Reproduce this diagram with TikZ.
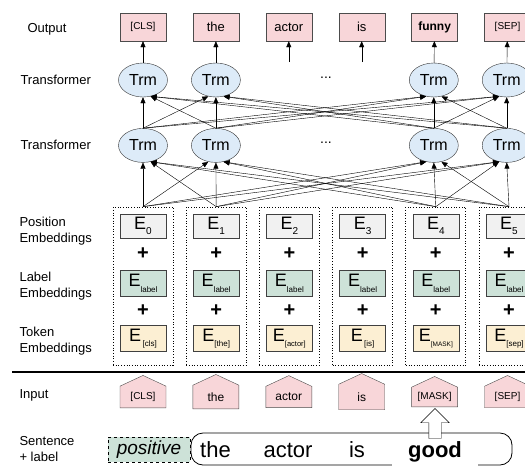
\documentclass[tikz,border=0pt]{standalone}
\usepackage{fontspec}
\setmainfont{Liberation Sans}
\usepackage{xcolor}
\usepackage{tikz}
\usetikzlibrary{positioning, arrows.meta, shapes.geometric, shapes.symbols, shapes.arrows, calc}

\definecolor{wordpink}{HTML}{F8D6D9}
\definecolor{trmblue}{HTML}{DDEBF8}
\definecolor{posgray}{HTML}{F1F1F1}
\definecolor{labgreen}{HTML}{CDE2D8}
\definecolor{tokcream}{HTML}{FCEFD3}

\newcommand{\esub}[2]{E\raisebox{-0.55ex}{\fontsize{#1}{#1}\selectfont #2}}

\begin{document}
\begin{tikzpicture}[
    x=1pt, y=-1pt,
    every node/.style={align=center},
    rowname/.style={anchor=west, align=left, font=\fontsize{13}{16}\selectfont},
    word/.style={rectangle, draw=black!70, fill=wordpink, minimum width=46pt, minimum height=28pt, font=\fontsize{13}{13}\selectfont},
    trm/.style={ellipse, draw=black!80, fill=trmblue, minimum width=49pt, minimum height=34pt, inner sep=0pt, font=\fontsize{16}{16}\selectfont},
    column/.style={rectangle, draw, dotted, line width=0.7pt, minimum width=60pt, minimum height=158pt},
    posbox/.style={rectangle, draw=black!75, fill=posgray, minimum width=46pt, minimum height=24pt, inner sep=0pt, font=\fontsize{18}{18}\selectfont},
    labbox/.style={posbox, fill=labgreen, minimum height=26pt},
    tokbox/.style={posbox, fill=tokcream, minimum height=26pt},
    plus/.style={inner sep=0pt, font=\fontsize{20}{20}\selectfont\bfseries},
    house/.style={signal, signal to=north, signal pointer angle=130, draw=black!70, fill=wordpink, minimum width=46pt, minimum height=28pt, inner sep=1pt, font=\fontsize{12}{12}\selectfont},
    bigword/.style={inner sep=0pt, text height=16pt, text depth=5pt, font=\fontsize{22}{22}\selectfont},
    arrow/.style={-{Triangle[length=6pt, width=5pt]}}
]
\useasboundingbox (0,0) rectangle (525,467);

% row names
\node (ROWOUT) [rowname] at (24,29) {Output};
\node (ROWTOP) [rowname] at (17,80) {Transformer};
\node (ROWLOW) [rowname] at (17,145) {Transformer};
\node (ROWPOS) [rowname] at (16,231) {Position\\Embeddings};
\node (ROWLAB) [rowname] at (16,286) {Label\\Embeddings};
\node (ROWTOK) [rowname] at (16,341) {Token\\Embeddings};
\node (ROWIN) [rowname] at (16,395) {Input};
\node (ROWSENT) [rowname] at (16,449) {Sentence\\+ label};

% output
\node (OUT0) [word, font=\fontsize{10}{10}\selectfont] at (143,27) {[CLS]};
\node (OUT1) [word, right=26.5pt of OUT0] {the};
\node (OUT2) [word, right=26.5pt of OUT1] {actor};
\node (OUT3) [word, right=26.5pt of OUT2] {is};
\node (OUT4) [word, right=26.5pt of OUT3, font=\fontsize{12}{12}\selectfont\bfseries] {funny};
\node (OUT5) [word, right=26.5pt of OUT4, font=\fontsize{10}{10}\selectfont] {[SEP]};
\node (STUB2) [coordinate, below=21pt of OUT2] {};
\node (STUB3) [coordinate, below=21pt of OUT3] {};

% transformers
\node (TOP0) [trm] at (143,80) {Trm};
\node (TOP1) [trm, right=23.5pt of TOP0] {Trm};
\node (TOP4) [trm, right=168.5pt of TOP1] {Trm};
\node (TOP5) [trm, right=23.5pt of TOP4] {Trm};
\node (LOW0) [trm, below=31pt of TOP0] {Trm};
\node (LOW1) [trm, below=31pt of TOP1] {Trm};
\node (LOW4) [trm, below=31pt of TOP4] {Trm};
\node (LOW5) [trm, below=31pt of TOP5] {Trm};
\node (DOTSTOP) [font=\fontsize{14}{14}\selectfont] at (326,78) {...};
\node (DOTSLOW) [font=\fontsize{14}{14}\selectfont] at (326,143) {...};

% embeddings
\node (EMB0) [column] at (143,286) {};
\node (EMB1) [column, right=12.5pt of EMB0] {};
\node (EMB2) [column, right=12.5pt of EMB1] {};
\node (EMB3) [column, right=12.5pt of EMB2] {};
\node (EMB4) [column, right=12.5pt of EMB3] {};
\node (EMB5) [column, right=12.5pt of EMB4] {};
\node (POS0) [posbox, below=7pt of EMB0.north] {\esub{10}{0}};
\node (POS1) [posbox, below=7pt of EMB1.north] {\esub{10}{1}};
\node (POS2) [posbox, below=7pt of EMB2.north] {\esub{10}{2}};
\node (POS3) [posbox, below=7pt of EMB3.north] {\esub{10}{3}};
\node (POS4) [posbox, below=7pt of EMB4.north] {\esub{10}{4}};
\node (POS5) [posbox, below=7pt of EMB5.north] {\esub{10}{5}};
\node (LAB0) [labbox, below=32pt of POS0] {\esub{8}{label}};
\node (LAB1) [labbox, below=32pt of POS1] {\esub{8}{label}};
\node (LAB2) [labbox, below=32pt of POS2] {\esub{8}{label}};
\node (LAB3) [labbox, below=32pt of POS3] {\esub{8}{label}};
\node (LAB4) [labbox, below=32pt of POS4] {\esub{8}{label}};
\node (LAB5) [labbox, below=32pt of POS5] {\esub{8}{label}};
\node (TOK0) [tokbox, below=29pt of LAB0] {\esub{8}{\,[cls]}};
\node (TOK1) [tokbox, below=29pt of LAB1] {\esub{8}{[the]}};
\node (TOK2) [tokbox, below=29pt of LAB2] {\esub{7.5}{[actor]}};
\node (TOK3) [tokbox, below=29pt of LAB3] {\esub{8}{\,[is]}};
\node (TOK4) [tokbox, below=29pt of LAB4] {\esub{6.5}{[MASK]}};
\node (TOK5) [tokbox, below=29pt of LAB5] {\esub{8}{[sep]}};
\node (PLUSA0) [plus] at ($(POS0.south)!0.5!(LAB0.north)$) {+};
\node (PLUSA1) [plus] at ($(POS1.south)!0.5!(LAB1.north)$) {+};
\node (PLUSA2) [plus] at ($(POS2.south)!0.5!(LAB2.north)$) {+};
\node (PLUSA3) [plus] at ($(POS3.south)!0.5!(LAB3.north)$) {+};
\node (PLUSA4) [plus] at ($(POS4.south)!0.5!(LAB4.north)$) {+};
\node (PLUSA5) [plus] at ($(POS5.south)!0.5!(LAB5.north)$) {+};
\node (PLUSB0) [plus] at ($(LAB0.south)!0.5!(TOK0.north)$) {+};
\node (PLUSB1) [plus] at ($(LAB1.south)!0.5!(TOK1.north)$) {+};
\node (PLUSB2) [plus] at ($(LAB2.south)!0.5!(TOK2.north)$) {+};
\node (PLUSB3) [plus] at ($(LAB3.south)!0.5!(TOK3.north)$) {+};
\node (PLUSB4) [plus] at ($(LAB4.south)!0.5!(TOK4.north)$) {+};
\node (PLUSB5) [plus] at ($(LAB5.south)!0.5!(TOK5.north)$) {+};

\draw [line width=2pt] (12,372) -- (525,372);

% input
\node (IN0) [house, font=\fontsize{10}{10}\selectfont] at (143,397) {[CLS]};
\node (IN1) [house, right=26.5pt of IN0] {the};
\node (IN2) [house, right=26.5pt of IN1] {actor};
\node (IN3) [house, right=26.5pt of IN2] {is};
\node (IN4) [house, right=26.5pt of IN3, font=\fontsize{10}{10}\selectfont] {[MASK]};
\node (IN5) [house, right=26.5pt of IN4, font=\fontsize{10}{10}\selectfont] {[SEP]};

% sentence + label
\node (POSITIVE) [rectangle, draw, dashed, fill=labgreen, minimum width=82pt, minimum height=25pt, inner sep=0pt, font=\fontsize{19}{19}\selectfont\itshape] at (149,449.5) {positive};
\node (SENTENCE) [rectangle, rounded corners=12pt, draw, thick, minimum width=321pt, minimum height=32pt] at (351.5,449) {};
\node (THE) [bigword] at (215.5,452) {the};
\node (ACTOR) [bigword] at (288,452) {actor};
\node (IS) [bigword] at (357,452) {is};
\node (GOOD) [bigword, draw=black!65, double=white, double distance=1.2pt, line width=0.6pt, minimum width=84pt, inner sep=2.5pt, font=\fontsize{22}{22}\selectfont\bfseries] at (435,452) {good};
\node (HINT) [single arrow, draw, fill=white, shape border rotate=90, minimum height=30pt, inner sep=6pt, single arrow head extend=8pt, anchor=tail] at (GOOD.north) {};

% connectors
\draw [arrow] (TOP0) -- (OUT0);
\draw [arrow] (TOP1) -- (OUT1);
\draw [arrow] (STUB2) -- (OUT2);
\draw [arrow] (STUB3) -- (OUT3);
\draw [arrow] (TOP4) -- (OUT4);
\draw [arrow] (TOP5) -- (OUT5);

\draw [arrow] (LOW0.north) -- (TOP0.south);
\draw [arrow] (LOW0.north) -- (TOP1.-115);
\draw [arrow] (LOW0.north) -- (TOP4.-115);
\draw [arrow] (LOW0.north) -- (TOP5.-115);
\draw [arrow] (LOW1.north) -- (TOP0.-65);
\draw [arrow] (LOW1.north) -- (TOP1.south);
\draw [arrow] (LOW1.north) -- (TOP4.-115);
\draw [arrow] (LOW1.north) -- (TOP5.-115);
\draw [arrow] (LOW4.north) -- (TOP0.-65);
\draw [arrow] (LOW4.north) -- (TOP1.-65);
\draw [arrow] (LOW4.north) -- (TOP4.south);
\draw [arrow] (LOW4.north) -- (TOP5.-115);
\draw [arrow] (LOW5.north) -- (TOP0.-65);
\draw [arrow] (LOW5.north) -- (TOP1.-65);
\draw [arrow] (LOW5.north) -- (TOP4.-65);
\draw [arrow] (LOW5.north) -- (TOP5.south);

\draw [arrow] (EMB0.north) -- (LOW0.south);
\draw [arrow] (EMB0.north) -- (LOW1.-115);
\draw [arrow] (EMB0.north) -- (LOW4.-115);
\draw [arrow] (EMB0.north) -- (LOW5.-115);
\draw [arrow] (EMB1.north) -- (LOW0.-65);
\draw [arrow] (EMB1.north) -- (LOW1.south);
\draw [arrow] (EMB1.north) -- (LOW4.-115);
\draw [arrow] (EMB1.north) -- (LOW5.-115);
\draw [arrow] (EMB4.north) -- (LOW0.-65);
\draw [arrow] (EMB4.north) -- (LOW1.-65);
\draw [arrow] (EMB4.north) -- (LOW4.south);
\draw [arrow] (EMB4.north) -- (LOW5.-115);
\draw [arrow] (EMB5.north) -- (LOW0.-65);
\draw [arrow] (EMB5.north) -- (LOW1.-65);
\draw [arrow] (EMB5.north) -- (LOW4.-65);
\draw [arrow] (EMB5.north) -- (LOW5.south);

\end{tikzpicture}
\end{document}
